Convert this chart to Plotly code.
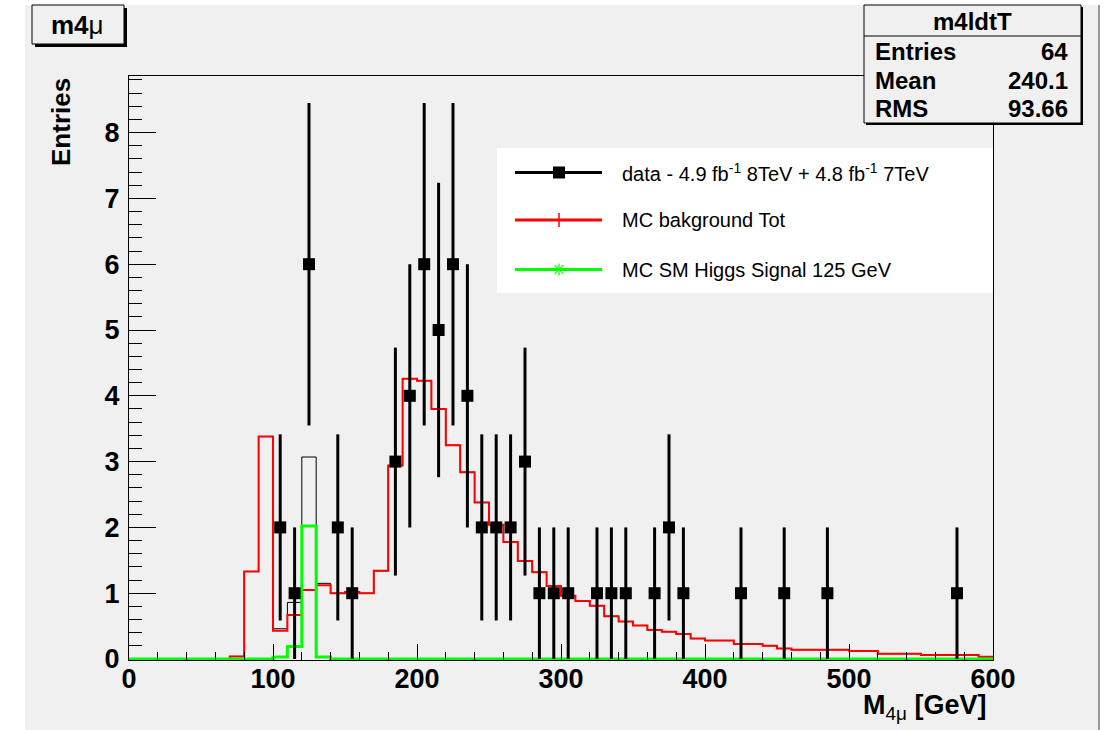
import plotly.graph_objects as go

# ---------------- histogram contents (10 GeV bins, 0-600 GeV) ----------------
bin_edges = list(range(0, 610, 10))

# data: bin centres with non-zero counts and their counts
data_mass = [105, 115, 125, 145, 155, 185, 195, 205, 215, 225, 235, 245, 255,
             265, 275, 285, 295, 305, 325, 335, 345, 365, 375, 385, 425, 455,
             485, 575]
data_counts = [2, 1, 6, 2, 1, 3, 4, 6, 5, 6, 4, 2, 2,
               2, 3, 1, 1, 1, 1, 1, 1, 1, 2, 1, 1, 1,
               1, 1]

# total MC background, one value per bin
mc_background = [0, 0, 0, 0, 0, 0, 0, 0.04, 1.33, 3.38,
                 0.43, 0.67, 1.05, 1.12, 1.00, 1.02, 1.00, 1.34, 2.94, 4.26,
                 4.23, 3.80, 3.25, 2.84, 2.38, 2.04, 1.78, 1.49, 1.32, 1.11,
                 0.96, 0.88, 0.81, 0.65, 0.57, 0.51, 0.44, 0.415, 0.38, 0.31,
                 0.28, 0.28, 0.23, 0.23, 0.20, 0.16, 0.14, 0.14, 0.14, 0.14,
                 0.12, 0.12, 0.08, 0.08, 0.08, 0.06, 0.06, 0.06, 0.06, 0.035]

# SM Higgs signal (m_H = 125 GeV), one value per bin
mc_signal = [0, 0, 0, 0, 0, 0, 0, 0, 0, 0,
             0.03, 0.19, 2.02, 0.03, 0, 0, 0, 0, 0, 0,
             0, 0, 0, 0, 0, 0, 0, 0, 0, 0,
             0, 0, 0, 0, 0, 0, 0, 0, 0, 0,
             0, 0, 0, 0, 0, 0, 0, 0, 0, 0,
             0, 0, 0, 0, 0, 0, 0, 0, 0, 0]

x_ticks = [0, 100, 200, 300, 400, 500, 600]
y_ticks = [0, 1, 2, 3, 4, 5, 6, 7, 8]

stats_name = "m4ldtT"
stats_rows = [("Entries", "64"), ("Mean", "240.1"), ("RMS", "93.66")]
legend_labels = ["data - 4.9 fb<sup>-1</sup> 8TeV + 4.8 fb<sup>-1</sup> 7TeV",
                 "MC bakground Tot",
                 "MC SM Higgs Signal 125 GeV"]

# ---------------- canvas geometry ----------------
W, H = 1107, 730
ML, MR, MT, MB = 129, 114, 76, 70
PW, PH = W - ML - MR, H - MT - MB
FONT = "Liberation Sans, Arial, Helvetica, sans-serif"
GRAY = "#f0f0f0"


def px(x):
    return (x - ML) / PW


def py(y):
    return (H - MB - y) / PH


def step(values):
    return values + [values[-1]]


mc_total = [b + s for b, s in zip(mc_background, mc_signal)]

fig = go.Figure()

# stacked total outline (thin black)
fig.add_trace(go.Scatter(x=bin_edges, y=step(mc_total), mode="lines",
                         line=dict(color="black", width=1, shape="hv"),
                         showlegend=False, hoverinfo="skip"))
# background
fig.add_trace(go.Scatter(x=bin_edges, y=step(mc_background), mode="lines",
                         line=dict(color="#ff0000", width=2, shape="hv"),
                         showlegend=False, hoverinfo="skip"))
# signal
fig.add_trace(go.Scatter(x=bin_edges, y=step(mc_signal), mode="lines",
                         line=dict(color="#00ff00", width=3, shape="hv"),
                         showlegend=False, hoverinfo="skip"))
# data points with Poisson (sqrt N) errors
fig.add_trace(go.Scatter(x=data_mass, y=data_counts, mode="markers",
                         marker=dict(symbol="square", size=12, color="black"),
                         error_y=dict(type="data",
                                      array=[c ** 0.5 for c in data_counts],
                                      color="black", thickness=3, width=0),
                         showlegend=False, hoverinfo="skip"))

shapes = []
annotations = []

# canvas pad
shapes.append(dict(type="rect", xref="paper", yref="paper", layer="below",
                   x0=px(25), x1=px(1098), y0=py(5), y1=py(730),
                   fillcolor=GRAY, line=dict(width=0)))
shapes.append(dict(type="line", xref="paper", yref="paper", layer="below",
                   x0=px(1099), x1=px(1099), y0=py(5), y1=py(730),
                   line=dict(color="#9a9a9a", width=2)))


def boxed(x0, y0, x1, y1, shadow=2):
    shapes.append(dict(type="rect", xref="paper", yref="paper", layer="above",
                       x0=px(x0 + shadow), x1=px(x1 + shadow),
                       y0=py(y0 + shadow), y1=py(y1 + shadow),
                       fillcolor="black", line=dict(width=0)))
    shapes.append(dict(type="rect", xref="paper", yref="paper", layer="above",
                       x0=px(x0), x1=px(x1), y0=py(y0), y1=py(y1),
                       fillcolor=GRAY, line=dict(color="black", width=1)))


# title box
boxed(32, 5, 124, 44, shadow=3)
annotations.append(dict(xref="paper", yref="paper", x=px(77), y=py(25),
                        xanchor="center", yanchor="middle", showarrow=False,
                        text="m4<span style='font-weight:normal'>μ</span>",
                        font=dict(family=FONT, size=26, color="black",
                                  weight="bold")))

# statistics box
boxed(864, 5, 1081, 123, shadow=2)
shapes.append(dict(type="line", xref="paper", yref="paper", layer="above",
                   x0=px(864), x1=px(1081), y0=py(36), y1=py(36),
                   line=dict(color="black", width=1)))
annotations.append(dict(xref="paper", yref="paper", x=px(972), y=py(22),
                        xanchor="center", yanchor="middle", showarrow=False,
                        text=stats_name,
                        font=dict(family=FONT, size=24, color="black",
                                  weight="bold")))
for i, (lab, val) in enumerate(stats_rows):
    yc = 51 + 29 * i
    annotations.append(dict(xref="paper", yref="paper", x=px(873), y=py(yc),
                            xanchor="left", yanchor="middle", showarrow=False,
                            text=lab,
                            font=dict(family=FONT, size=24, color="black",
                                      weight="bold")))
    annotations.append(dict(xref="paper", yref="paper", x=px(1070), y=py(yc),
                            xanchor="right", yanchor="middle", showarrow=False,
                            text=val,
                            font=dict(family=FONT, size=24, color="black",
                                      weight="bold")))

# legend
shapes.append(dict(type="rect", xref="paper", yref="paper", layer="above",
                   x0=px(497), x1=px(993), y0=py(148), y1=py(293),
                   fillcolor="white", line=dict(width=0)))
legend_y = [172.5, 220, 269.5]
legend_colors = ["black", "#ff0000", "#00ff00"]
for yc, col, lab in zip(legend_y, legend_colors, legend_labels):
    shapes.append(dict(type="line", xref="paper", yref="paper", layer="above",
                       x0=px(515), x1=px(602), y0=py(yc), y1=py(yc),
                       line=dict(color=col, width=3)))
    annotations.append(dict(xref="paper", yref="paper", x=px(620), y=py(yc),
                            xanchor="left", yanchor="middle", showarrow=False,
                            text=lab,
                            font=dict(family=FONT, size=20, color="black")))
mx = 559
# square marker
shapes.append(dict(type="rect", xref="paper", yref="paper", layer="above",
                   x0=px(mx - 6), x1=px(mx + 6),
                   y0=py(legend_y[0] - 6), y1=py(legend_y[0] + 6),
                   fillcolor="black", line=dict(width=0)))
# error-bar tick
shapes.append(dict(type="line", xref="paper", yref="paper", layer="above",
                   x0=px(mx), x1=px(mx),
                   y0=py(legend_y[1] - 7), y1=py(legend_y[1] + 7),
                   line=dict(color="#ff0000", width=1.5)))
# asterisk marker
for dx, dy in [(6, 0), (0, 6), (4.3, 4.3), (4.3, -4.3)]:
    shapes.append(dict(type="line", xref="paper", yref="paper", layer="above",
                       x0=px(mx - dx), x1=px(mx + dx),
                       y0=py(legend_y[2] - dy), y1=py(legend_y[2] + dy),
                       line=dict(color="#00ff00", width=1.2)))

# axis titles
annotations.append(dict(xref="paper", yref="paper", x=px(61), y=py(122),
                        xanchor="center", yanchor="middle", showarrow=False,
                        textangle=-90, text="Entries",
                        font=dict(family=FONT, size=26, color="black",
                                  weight="bold")))
annotations.append(dict(xref="paper", yref="paper", x=px(988), y=py(707),
                        xanchor="right", yanchor="middle", showarrow=False,
                        text="M<sub><span style='font-weight:normal'>4μ</span></sub> [GeV]",
                        font=dict(family=FONT, size=27, color="black",
                                  weight="bold")))

tickfont = dict(family=FONT, size=27, color="black", weight="bold")
fig.update_layout(
    width=W, height=H,
    margin=dict(l=ML, r=MR, t=MT, b=MB, pad=0),
    paper_bgcolor="white",
    plot_bgcolor="rgba(0,0,0,0)",
    showlegend=False,
    shapes=shapes,
    annotations=annotations,
    xaxis=dict(range=[0, 600], tickmode="array", tickvals=x_ticks,
               ticktext=[str(v) for v in x_ticks],
               ticks="inside", ticklen=16, tickwidth=1, tickcolor="black",
               ticklabelstandoff=-5,
               minor=dict(ticks="inside", ticklen=8, dtick=20,
                          tickcolor="black", tickwidth=1, showgrid=False),
               showline=True, linecolor="black", linewidth=1, mirror=True,
               showgrid=False, zeroline=False, tickfont=tickfont),
    yaxis=dict(range=[-0.015, 8.86], tickmode="array", tickvals=y_ticks,
               ticktext=[str(v) for v in y_ticks],
               ticks="inside", ticklen=27, tickwidth=1, tickcolor="black",
               ticklabelstandoff=3,
               minor=dict(ticks="inside", ticklen=13, dtick=0.2, tick0=0,
                          tickcolor="black", tickwidth=1, showgrid=False),
               showline=True, linecolor="black", linewidth=1, mirror=True,
               showgrid=False, zeroline=False, tickfont=tickfont),
)

fig.write_html("out.html")
